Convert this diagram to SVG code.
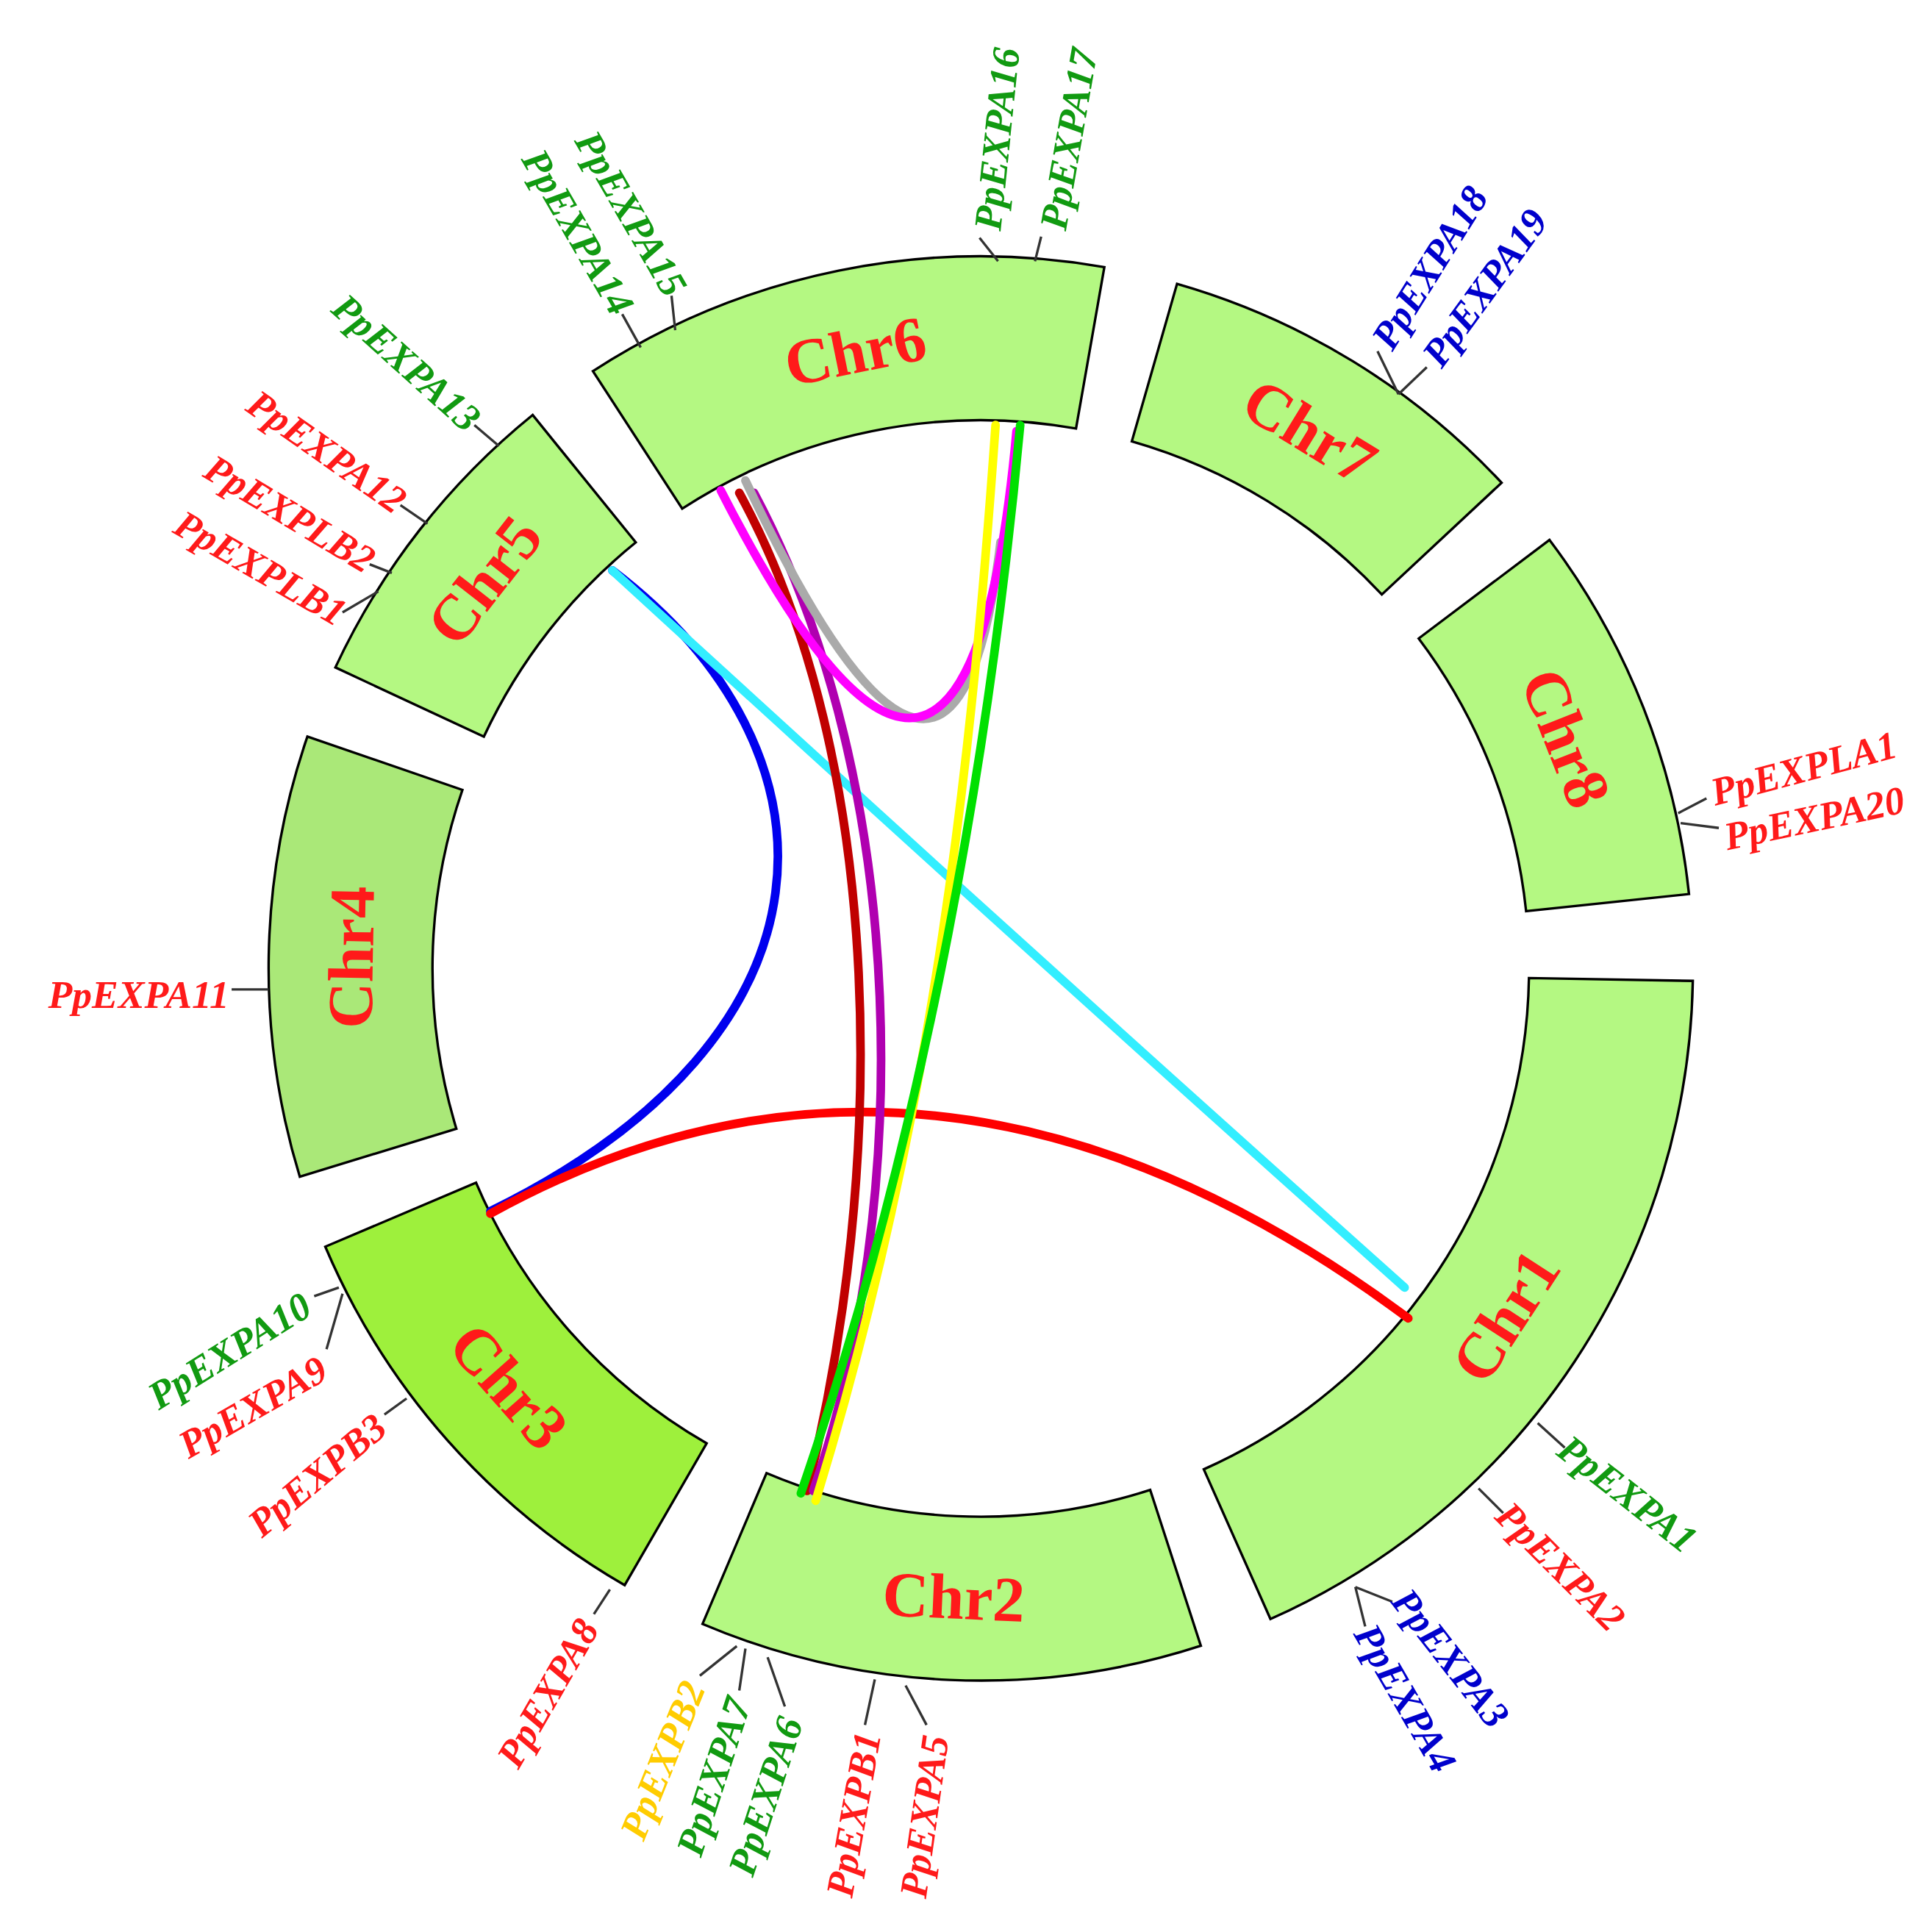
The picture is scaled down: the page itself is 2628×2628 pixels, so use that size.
<svg xmlns="http://www.w3.org/2000/svg" width="2628" height="2628" viewBox="0 0 2628 2628">
<style>
.chr{stroke:#000;stroke-width:2}
.cl{font-family:"Liberation Serif",serif;font-weight:bold;font-size:52px;fill:#ff1a1a;text-anchor:middle;dominant-baseline:central}
.g{font-family:"Liberation Serif",serif;font-weight:bold;font-style:italic;font-size:32px}
.r{fill:#ff1a1a}.gr{fill:#119a11}.b{fill:#0000cc}.y{fill:#ffcc00}
.e{text-anchor:end}
.t{stroke:#333;stroke-width:2;fill:none}
.lk{fill:none;stroke-width:7;stroke-linecap:round}
</style>
<rect width="2628" height="2628" fill="#fff"/>
<g transform="scale(1.676)">
<g id="chr1"><path class="chr" fill="#b4f882" d="M1373.9,796.1 A578,578 0 0 1 1031.1,1314 L977,1192.5 A445,445 0 0 0 1240.9,793.8 Z"/><text class="cl" transform="translate(1222,1068) rotate(-57)">Chr1</text></g>
<g id="chr2"><path class="chr" fill="#b4f882" d="M974.6,1335.7 A578,578 0 0 1 570.2,1318 L622.1,1195.6 A445,445 0 0 0 933.5,1209.2 Z"/><text class="cl" transform="translate(774,1296) rotate(2.5)">Chr2</text></g>
<g id="chr3"><path class="chr" fill="#9ef03c" d="M507,1286.5 A578,578 0 0 1 264,1011.8 L386.4,959.9 A445,445 0 0 0 573.5,1171.4 Z"/><text class="cl" transform="translate(413,1125) rotate(48.5)">Chr3</text></g>
<g id="chr4"><path class="chr" fill="#aae878" d="M243.3,955 A578,578 0 0 1 249.5,597.8 L375.3,641.1 A445,445 0 0 0 370.4,916.1 Z"/><text class="cl" transform="translate(285,777) rotate(-89)">Chr4</text></g>
<g id="chr5"><path class="chr" fill="#b4f882" d="M272.2,541.7 A578,578 0 0 1 432.3,336.8 L516,440.2 A445,445 0 0 0 392.7,597.9 Z"/><text class="cl" transform="translate(393,471) rotate(-52)">Chr5</text></g>
<g id="chr6"><path class="chr" fill="#b4f882" d="M481.2,301.2 A578,578 0 0 1 896.3,216.8 L873.3,347.8 A445,445 0 0 0 553.7,412.8 Z"/><text class="cl" transform="translate(694,285) rotate(-11.5)">Chr6</text></g>
<g id="chr7"><path class="chr" fill="#b4f882" d="M955.3,230.4 A578,578 0 0 1 1218.7,391.8 L1121.5,482.5 A445,445 0 0 0 918.6,358.2 Z"/><text class="cl" transform="translate(1063,350) rotate(31.5)">Chr7</text></g>
<g id="chr8"><path class="chr" fill="#b4f882" d="M1257.6,438.2 A578,578 0 0 1 1370.8,725.6 L1238.6,739.5 A445,445 0 0 0 1151.4,518.2 Z"/><text class="cl" transform="translate(1271,599) rotate(68.5)">Chr8</text></g>
<g id="connectors">
<path class="lk" stroke="#0000ee" d="M497,463 C690,610 690,840 398,983"/>
<path class="lk" stroke="#ff0000" d="M398,985 Q760,785 1143,1070"/>
<path class="lk" stroke="#33eeff" stroke-width="6" d="M497,463 Q810,750 1140,1045"/>
<path class="lk" stroke="#c00000" d="M600,400 C720,620 720,950 655,1210"/>
<path class="lk" stroke="#b000b0" d="M612,400 C740,640 740,980 660,1210"/>
<path class="lk" stroke="#aaaaaa" d="M605,390 Q775,750 812,440"/>
<path class="lk" stroke="#ff00ff" d="M585,398 Q785,790 825,350"/>
<path class="lk" stroke="#ffff00" d="M808,345 C790,600 760,900 662,1218"/>
<path class="lk" stroke="#00e000" d="M828,345 C800,650 740,950 650,1212"/>
</g>
<g id="genes">
<path class="t" d="M810,212 L795,193 M840,212 L845,192 M520,282 L505,255 M548,268 L545,240 M405,362 L385,345 M347,425 L325,410 M318,465 L300,458 M307,480 L278,497 M218,803 L188,803 M275,1045 L255,1052 M278,1050 L265,1095 M330,1135 L312,1148 M495,1290 L482,1310 M598,1336 L568,1360 M605,1338 L600,1372 M623,1345 L637,1385 M710,1363 L702,1400 M735,1368 L752,1400 M1100,1288 L1130,1300 M1100,1288 L1108,1320 M1200,1208 L1220,1228 M1248,1155 L1270,1175 M1362,660 L1385,648 M1364,668 L1395,672 M1135,320 L1118,285 M1135,320 L1158,298"/>
<text class="g gr" transform="translate(812,188) rotate(-84)">PpEXPA16</text>
<text class="g gr" transform="translate(865,188) rotate(-80)">PpEXPA17</text>
<text class="g gr e" transform="translate(497,258) rotate(60)">PpEXPA14</text>
<text class="g gr e" transform="translate(540,243) rotate(60)">PpEXPA15</text>
<text class="g gr e" transform="translate(378,352) rotate(42)">PpEXPA13</text>
<text class="g r e" transform="translate(320,418) rotate(35)">PpEXPA12</text>
<text class="g r e" transform="translate(296,466) rotate(31)">PpEXPLB2</text>
<text class="g r e" transform="translate(273,509) rotate(30)">PpEXPLB1</text>
<text class="g r e" transform="translate(186,818)">PpEXPA11</text>
<text class="g gr e" transform="translate(255,1066) rotate(-32)">PpEXPA10</text>
<text class="g r e" transform="translate(268,1118) rotate(-30)">PpEXPA9</text>
<text class="g r e" transform="translate(316,1162) rotate(-40)">PpEXPB3</text>
<text class="g r e" transform="translate(487,1322) rotate(-60)">PpEXPA8</text>
<text class="g y e" transform="translate(573,1370) rotate(-68)">PpEXPB2</text>
<text class="g gr e" transform="translate(610,1382) rotate(-72)">PpEXPA7</text>
<text class="g gr e" transform="translate(652,1398) rotate(-72)">PpEXPA6</text>
<text class="g r e" transform="translate(715,1408) rotate(-80)">PpEXPB1</text>
<text class="g r e" transform="translate(770,1410) rotate(-82)">PpEXPA5</text>
<text class="g b" transform="translate(1128,1300) rotate(52)">PpEXPA3</text>
<text class="g b" transform="translate(1098,1326) rotate(60)">PpEXPA4</text>
<text class="g r" transform="translate(1212,1232) rotate(45)">PpEXPA2</text>
<text class="g gr" transform="translate(1262,1180) rotate(38)">PpEXPA1</text>
<text class="g r" transform="translate(1392,654) rotate(-15)">PpEXPLA1</text>
<text class="g r" transform="translate(1402,690) rotate(-12)">PpEXPA20</text>
<text class="g b" transform="translate(1130,286) rotate(-58)">PpEXPA18</text>
<text class="g b" transform="translate(1170,300) rotate(-54)">PpEXPA19</text>
</g>
</g>
</svg>
